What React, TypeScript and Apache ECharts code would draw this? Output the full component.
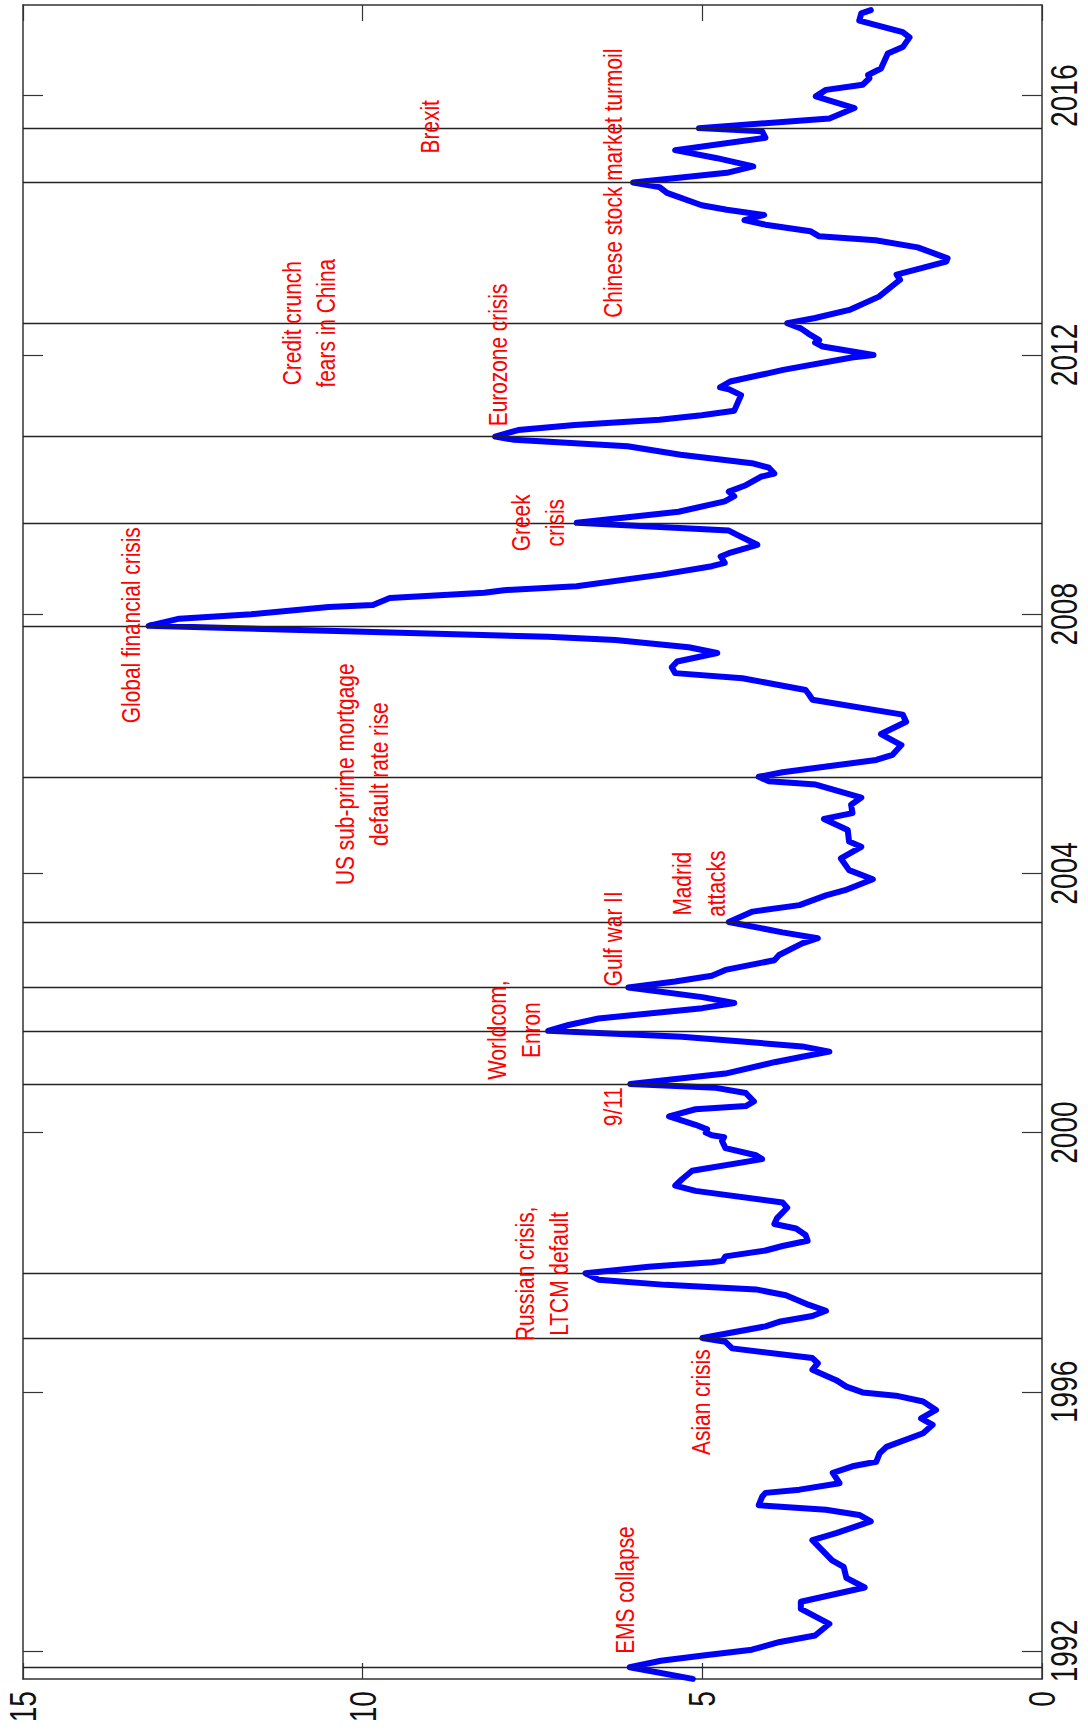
import React, { useEffect, useRef } from "react";
import * as echarts from "echarts";

// Time (decimal year, as placed on the original time axis)
const dates = [
  1991.57, 1991.75, 1991.85, 1991.93, 1992.02, 1992.14, 1992.24, 1992.42, 1992.65, 1992.76,
  1992.98, 1993.13, 1993.30, 1993.40, 1993.71, 1993.82, 1994.00, 1994.10, 1994.18, 1994.25,
  1994.38, 1994.44, 1994.49, 1994.59, 1994.75, 1994.85, 1994.92, 1995.05, 1995.15, 1995.36,
  1995.49, 1995.59, 1995.72, 1995.85, 1995.94, 1995.99, 1996.08, 1996.18, 1996.34, 1996.44,
  1996.52, 1996.67, 1996.77, 1996.83, 1997.01, 1997.08, 1997.17, 1997.25, 1997.34, 1997.49,
  1997.58, 1997.65, 1997.73, 1997.83, 1997.93, 1998.00, 1998.02, 1998.09, 1998.18, 1998.25,
  1998.33, 1998.42, 1998.52, 1998.59, 1998.68, 1998.84, 1998.92, 1999.10, 1999.18, 1999.28,
  1999.41, 1999.59, 1999.65, 1999.76, 1999.87, 1999.93, 1999.96, 2000.00, 2000.05, 2000.12,
  2000.25, 2000.36, 2000.41, 2000.48, 2000.61, 2000.69, 2000.75, 2000.91, 2001.09, 2001.17,
  2001.25, 2001.33, 2001.48, 2001.57, 2001.66, 2001.76, 2001.92, 2002.00, 2002.09, 2002.24,
  2002.33, 2002.42, 2002.51, 2002.66, 2002.74, 2002.92, 2003.00, 2003.09, 2003.25, 2003.41,
  2003.51, 2003.66, 2003.74, 2003.91, 2004.05, 2004.23, 2004.41, 2004.49, 2004.67, 2004.84,
  2004.93, 2005.06, 2005.17, 2005.37, 2005.42, 2005.49, 2005.56, 2005.75, 2005.83, 2005.98,
  2006.15, 2006.34, 2006.45, 2006.68, 2006.76, 2006.83, 2007.01, 2007.09, 2007.18, 2007.27,
  2007.40, 2007.49, 2007.60, 2007.65, 2007.82, 2007.93, 2008.00, 2008.11, 2008.14, 2008.25,
  2008.33, 2008.37, 2008.43, 2008.61, 2008.74, 2008.79, 2008.89, 2008.94, 2009.07, 2009.22,
  2009.29, 2009.41, 2009.58, 2009.74, 2009.82, 2009.89, 2009.99, 2010.12, 2010.17, 2010.26,
  2010.33, 2010.46, 2010.59, 2010.69, 2010.74, 2010.84, 2010.92, 2011.00, 2011.07, 2011.14,
  2011.26, 2011.38, 2011.47, 2011.50, 2011.59, 2011.72, 2011.77, 2011.96, 2012.00, 2012.13,
  2012.19, 2012.23, 2012.33, 2012.41, 2012.49, 2012.57, 2012.70, 2012.90, 2013.06, 2013.16,
  2013.24, 2013.44, 2013.49, 2013.66, 2013.77, 2013.83, 2013.91, 2014.01, 2014.08, 2014.16,
  2014.24, 2014.31, 2014.50, 2014.59, 2014.66, 2014.81, 2014.91, 2015.04, 2015.16, 2015.35,
  2015.45, 2015.50, 2015.65, 2015.81, 2015.99, 2016.09, 2016.17, 2016.27, 2016.32, 2016.42,
  2016.65, 2016.75, 2016.90, 2016.98, 2017.16, 2017.27, 2017.32,
];

const values = [
  5.14, 6.07, 5.61, 4.99, 4.27, 3.86, 3.34, 3.13, 3.55, 3.55,
  2.61, 2.88, 2.92, 3.09, 3.38, 3.03, 2.52, 2.69, 3.18, 4.17,
  4.12, 4.07, 3.57, 2.98, 3.08, 2.79, 2.44, 2.39, 2.29, 1.75,
  1.61, 1.78, 1.56, 1.75, 2.15, 2.64, 2.88, 3.03, 3.38, 3.30,
  3.38, 4.56, 4.66, 5.00, 4.07, 3.87, 3.38, 3.18, 3.43, 3.77,
  4.21, 5.54, 6.53, 6.72, 5.79, 4.86, 4.70, 4.66, 4.07, 3.82,
  3.45, 3.48, 3.62, 3.94, 3.90, 3.75, 3.82, 5.10, 5.40, 5.30,
  5.15, 4.12, 4.21, 4.66, 4.71, 4.68, 4.86, 4.95, 4.93, 5.10,
  5.49, 5.10, 4.36, 4.24, 4.36, 4.80, 6.06, 4.66, 3.92, 3.53,
  3.13, 3.53, 5.30, 7.27, 6.97, 6.53, 5.00, 4.53, 5.00, 6.09,
  5.40, 4.86, 4.66, 3.94, 3.87, 3.53, 3.30, 3.82, 4.61, 4.26,
  3.57, 3.18, 2.90, 2.49, 2.84, 2.96, 2.66, 2.84, 2.86, 3.21,
  2.79, 2.81, 2.66, 3.33, 4.02, 4.17, 3.82, 2.44, 2.20, 2.07,
  2.37, 2.00, 2.05, 3.38, 3.43, 3.48, 4.41, 5.40, 5.45, 5.37,
  4.78, 5.20, 6.28, 7.27, 13.15, 12.70, 11.64, 10.50, 9.85, 9.60,
  8.21, 7.92, 6.85, 5.60, 4.86, 4.67, 4.73, 4.61, 4.19, 4.48,
  4.61, 6.85, 5.35, 4.67, 4.53, 4.61, 4.36, 4.14, 3.94, 4.02,
  4.27, 5.32, 6.10, 7.77, 8.05, 7.71, 6.88, 5.63, 5.01, 4.53,
  4.48, 4.43, 4.61, 4.74, 4.59, 4.02, 3.81, 2.80, 2.48, 3.23,
  3.34, 3.28, 3.44, 3.55, 3.75, 3.34, 2.82, 2.40, 2.21, 2.09,
  2.14, 1.41, 1.39, 1.83, 2.45, 3.28, 3.41, 4.07, 4.38, 4.09,
  4.64, 5.01, 5.52, 5.63, 6.02, 4.64, 4.25, 4.80, 5.40, 4.07,
  4.12, 5.05, 3.13, 2.76, 3.33, 3.18, 2.64, 2.54, 2.56, 2.37,
  2.27, 2.05, 1.95, 2.05, 2.69, 2.66, 2.52,
];

const eventDates = [
  1991.75, 1996.83, 1997.83, 2000.75, 2001.57, 2002.24, 2003.25,
  2005.49, 2007.82, 2009.41, 2010.74, 2012.49, 2014.66, 2015.50,
];

const yearTicks = [1992, 1996, 2000, 2004, 2008, 2012, 2016];
const valueTicks = [0, 5, 10, 15];

const annotationTexts = [
  "EMS collapse",
  "Asian crisis",
  "Russian crisis,\nLTCM default",
  "9/11",
  "Worldcom,\nEnron",
  "Gulf war II",
  "Madrid\nattacks",
  "US sub-prime mortgage\ndefault rate rise",
  "Global financial crisis",
  "Greek\ncrisis",
  "Eurozone crisis",
  "Credit crunch\nfears in China",
  "Chinese stock market turmoil",
  "Brexit",
];
const annotationDates = [
  1992.94, 1995.84, 1997.82, 2000.40, 2001.58, 2002.99, 2003.84,
  2005.53, 2007.83, 2009.41, 2012.0, 2012.49, 2014.65, 2015.52,
];
const annotationLevels = [
  6.13, 5.01, 7.36, 6.31, 7.77, 6.31, 5.04,
  10.0, 13.41, 7.42, 8.01, 10.78, 6.31, 9.0,
];

const FONT = "'Liberation Sans', Arial, sans-serif";

export default function App() {
  const ref = useRef<HTMLDivElement>(null);

  useEffect(() => {
    if (!ref.current) return;
    const chart = echarts.init(ref.current, null, { renderer: "svg" });
    const axisColor = "#333";
    const timeMin = 1991.568;
    const timeMax = 2017.4;
    const gridLeft = 23;
    const gridRight = 46;
    const gridTop = 5;
    const gridBottom = 52;
    const W = 1088;
    const H = 1731;

    const option: any = {
      animation: false,
      grid: { left: gridLeft, right: gridRight, top: gridTop, bottom: gridBottom, containLabel: false },
      xAxis: [
        {
          type: "value",
          inverse: true,
          min: 0,
          max: 15,
          interval: 5,
          position: "bottom",
          axisLine: { show: true, onZero: false, lineStyle: { color: axisColor, width: 1.5 } },
          axisTick: { show: true, inside: true, length: 16, lineStyle: { color: axisColor, width: 1.2 } },
          axisLabel: { show: false },
          splitLine: { show: false },
        },
        {
          type: "value",
          inverse: true,
          min: 0,
          max: 15,
          interval: 5,
          position: "top",
          axisLine: { show: true, onZero: false, lineStyle: { color: axisColor, width: 1.5 } },
          axisTick: { show: true, inside: true, length: 16, lineStyle: { color: axisColor, width: 1.2 } },
          axisLabel: { show: false },
          splitLine: { show: false },
        },
      ],
      yAxis: [
        {
          type: "value",
          min: timeMin,
          max: timeMax,
          position: "right",
          axisLine: { show: true, onZero: false, lineStyle: { color: axisColor, width: 1.5 } },
          axisTick: {
            show: true,
            inside: true,
            length: 20,
            customValues: yearTicks,
            lineStyle: { color: axisColor, width: 1.2 },
          },
          axisLabel: { show: false },
          splitLine: { show: false },
        },
        {
          type: "value",
          min: timeMin,
          max: timeMax,
          position: "left",
          axisLine: { show: true, onZero: false, lineStyle: { color: axisColor, width: 1.5 } },
          axisTick: {
            show: true,
            inside: true,
            length: 20,
            customValues: yearTicks,
            lineStyle: { color: axisColor, width: 1.2 },
          },
          axisLabel: { show: false },
          splitLine: { show: false },
        },
      ],
      series: [
        {
          type: "line",
          name: "events",
          z: 1,
          data: [[values[0], dates[0]]],
          symbol: "none",
          lineStyle: { width: 0 },
          silent: true,
          markLine: {
            silent: true,
            symbol: ["none", "none"],
            label: { show: false },
            lineStyle: { type: "solid", color: "#222", width: 1.3 },
            data: eventDates.map((d) => ({ yAxis: d })),
          },
        },
        {
          type: "line",
          name: "index",
          z: 3,
          data: dates.map((d, i) => [values[i], d]),
          symbol: "none",
          showSymbol: false,
          lineStyle: { color: "#0000ff", width: 6, join: "round", cap: "round" },
        },
      ],
    };
    chart.setOption(option);

    const plotRight = W - gridRight;
    const plotBottom = H - gridBottom;

    const annotationGraphics = annotationTexts.map((t, i) => {
      const p = chart.convertToPixel({ xAxisIndex: 0, yAxisIndex: 0 }, [
        annotationLevels[i],
        annotationDates[i],
      ]) as number[];
      return {
        type: "text",
        x: p[0],
        y: p[1],
        rotation: Math.PI / 2,
        scaleX: 0.835,
        z: 10,
        style: {
          text: t,
          fill: "#ff0000",
          fontSize: 25,
          fontFamily: FONT,
          align: "center",
          verticalAlign: "middle",
          lineHeight: 34,
        },
      };
    });

    const yearLabelGraphics = yearTicks.map((yr) => {
      const py = chart.convertToPixel({ yAxisIndex: 0 }, yr) as number;
      return {
        type: "text",
        x: plotRight + 4,
        y: py,
        rotation: Math.PI / 2,
        scaleX: 0.76,
        style: {
          text: String(yr),
          fill: "#111",
          fontSize: 37,
          fontFamily: FONT,
          align: "center",
          verticalAlign: "top",
        },
      };
    });

    const valueLabelGraphics = valueTicks.map((v) => {
      const px = chart.convertToPixel({ xAxisIndex: 0 }, v) as number;
      return {
        type: "text",
        x: px,
        y: plotBottom + 12,
        rotation: Math.PI / 2,
        scaleX: 0.76,
        style: {
          text: String(v),
          fill: "#111",
          fontSize: 37,
          fontFamily: FONT,
          align: "right",
          verticalAlign: "middle",
        },
      };
    });

    chart.setOption({
      graphic: [...annotationGraphics, ...yearLabelGraphics, ...valueLabelGraphics],
    });

    return () => chart.dispose();
  }, []);

  return (
    <div
      ref={ref}
      style={{ position: "absolute", left: 0, top: 0, width: 1088, height: 1731, background: "#fff" }}
    />
  );
}
